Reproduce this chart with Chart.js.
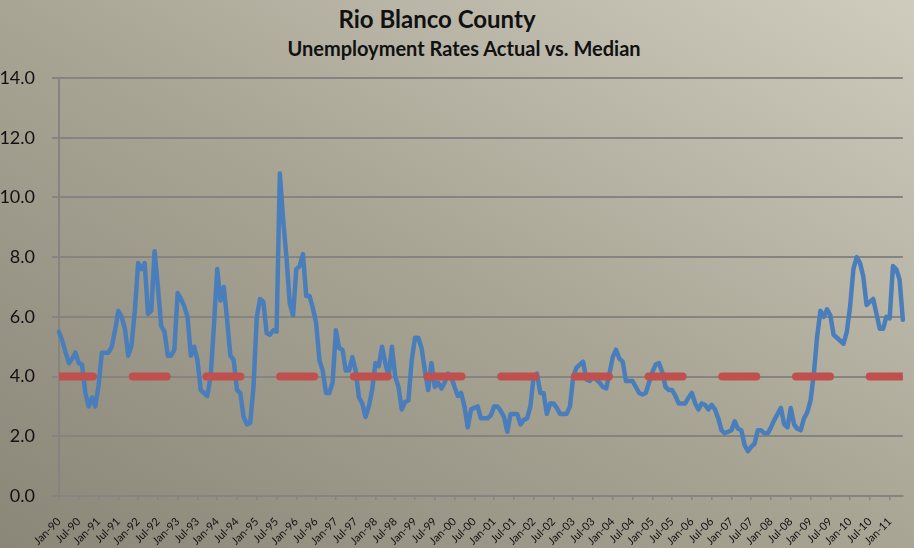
<!DOCTYPE html>
<html>
<head>
<meta charset="utf-8">
<title>Rio Blanco County</title>
<script src="https://cdn.jsdelivr.net/npm/chart.js@4.4.1/dist/chart.umd.min.js"></script>
<style>
  html, body { margin: 0; padding: 0; overflow: hidden; }
  #wrap {
    position: relative;
    width: 914px;
    height: 548px;
    background: linear-gradient(to top right, #8a8779 0%, #a8a595 50%, #cfccbe 100%);
    font-family: Lato, "Open Sans", sans-serif;
    color: #111;
  }
  .ttl {
    position: absolute;
    transform: translateX(-50%);
    white-space: nowrap;
    font-weight: bold;
  }
  #t1 { left: 437px; top: 4px; font-size: 24px; }
  #t2 { left: 464px; top: 36px; font-size: 20px; }
  canvas { position: absolute; left: 0; top: 0; }
</style>
</head>
<body>
<div id="wrap">
  <div class="ttl" id="t1">Rio Blanco County</div>
  <div class="ttl" id="t2">Unemployment Rates Actual vs. Median</div>
  <canvas id="myCanvas" width="914" height="548"></canvas>
</div>
<script>
let canvas = document.getElementById("myCanvas");

// monthly unemployment rate, Jan-90 onward
const actualRate = [
  5.5, 5.2, 4.8, 4.45, 4.6, 4.8, 4.45, 4.4, 3.45, 3.0,
  3.3, 3.0, 3.7, 4.8, 4.8, 4.8, 5.0, 5.55, 6.2, 6.0,
  5.6, 4.7, 5.05, 6.2, 7.8, 7.6, 7.8, 6.1, 6.2, 8.2,
  7.0, 5.7, 5.5, 4.7, 4.7, 4.9, 6.8, 6.6, 6.35, 6.0,
  4.7, 5.0, 4.55, 3.55, 3.45, 3.35, 4.0, 5.7, 7.6, 6.55,
  7.0, 5.9, 4.7, 4.55, 3.55, 3.45, 2.65, 2.4, 2.45, 3.65,
  6.0, 6.6, 6.5, 5.45, 5.4, 5.55, 5.5, 10.8, 9.25, 8.0,
  6.45, 6.05, 7.6, 7.7, 8.1, 6.7, 6.7, 6.3, 5.8, 4.55,
  4.2, 3.45, 3.45, 3.8, 5.55, 4.95, 4.9, 4.2, 4.2, 4.65,
  4.2, 3.3, 3.1, 2.65, 3.0, 3.55, 4.45, 4.35, 5.0, 4.45,
  4.0, 5.0, 4.0, 3.65, 2.9, 3.15, 3.2, 4.55, 5.3, 5.3,
  4.95, 4.2, 3.55, 4.45, 3.65, 3.8, 3.6, 3.8, 4.1, 4.0,
  3.65, 3.35, 3.45, 3.0, 2.3, 2.9, 2.95, 3.0, 2.6, 2.6,
  2.6, 2.7, 3.0, 3.0, 2.85, 2.65, 2.15, 2.75, 2.75, 2.75,
  2.4, 2.55, 2.6, 3.0, 4.0, 4.1, 3.45, 3.45, 2.75, 3.1,
  3.1, 2.95, 2.75, 2.75, 2.75, 3.0, 4.0, 4.3, 4.4, 4.5,
  3.9, 3.85, 4.0, 3.9, 3.8, 3.65, 3.6, 4.1, 4.65, 4.9,
  4.6, 4.5, 3.85, 3.85, 3.85, 3.65, 3.45, 3.4, 3.45, 3.8,
  4.15, 4.4, 4.45, 4.15, 3.65, 3.55, 3.55, 3.35, 3.1, 3.1,
  3.1, 3.3, 3.45, 3.1, 2.9, 3.1, 3.05, 2.9, 3.05, 2.9,
  2.6, 2.2, 2.1, 2.15, 2.2, 2.5, 2.25, 2.2, 1.7, 1.5,
  1.65, 1.75, 2.2, 2.2, 2.1, 2.1, 2.3, 2.55, 2.75, 2.95,
  2.4, 2.3, 2.95, 2.4, 2.25, 2.2, 2.6, 2.8, 3.2, 4.1,
  5.35, 6.2, 6.0, 6.25, 6.05, 5.4, 5.3, 5.2, 5.1, 5.5,
  6.35, 7.6, 8.0, 7.8, 7.35, 6.4, 6.5, 6.6, 6.1, 5.6,
  5.6, 6.0, 5.95, 7.7, 7.6, 7.25, 5.9
];

// the median for the whole period
const medianRate = 4.0;

const monthNames = ["Jan", "Feb", "Mar", "Apr", "May", "Jun", "Jul", "Aug", "Sep", "Oct", "Nov", "Dec"];
const startYear = 1990;

// categories: Jan-90, Feb-90, ...
let months = [];
for (let i = 0; i < actualRate.length; i++) {
  let yy = (startYear + Math.floor(i / 12)) % 100;
  months.push(`${monthNames[i % 12]}-${String(yy).padStart(2, "0")}`);
}

const yTicks = [0, 2, 4, 6, 8, 10, 12, 14];

const medianData = months.map(() => medianRate);

const gridColor = "#858480";

new Chart(canvas, {
  type: "line",
  data: {
    labels: months,
    datasets: [
      {
        label: "Median",
        data: medianData,
        borderColor: "#c0504d",
        borderWidth: 8,
        borderDash: [34, 39.7],
        borderCapStyle: "round",
        pointRadius: 0,
        clip: 0,
      },
      {
        label: "Actual",
        data: actualRate,
        borderColor: "#4a7ebb",
        borderWidth: 4.5,
        borderJoinStyle: "round",
        borderCapStyle: "round",
        pointRadius: 0,
        tension: 0,
        clip: false,
      },
    ],
  },
  options: {
    responsive: false,
    animation: false,
    devicePixelRatio: 1,
    layout: { padding: { top: 78, right: 0, bottom: 0, left: 0 } },
    plugins: {
      legend: { display: false },
      tooltip: { enabled: false },
    },
    scales: {
      x: {
        offset: false,
        afterFit: (scale) => { scale.height = 52; },
        grid: {
          display: true,
          drawOnChartArea: false,
          drawTicks: true,
          tickLength: 4,
          color: gridColor,
          lineWidth: 1.5,
        },
        border: { display: true, color: gridColor, width: 2 },
        ticks: {
          autoSkip: false,
          maxRotation: 45,
          minRotation: 45,
          padding: 15,
          color: "#111",
          font: { family: "Lato", size: 11 },
          callback: function (val, i) {
            return i % 6 === 0 ? this.getLabelForValue(val) : null;
          },
        },
      },
      y: {
        min: 0,
        max: 14,
        afterFit: (scale) => { scale.width = 59; },
        afterBuildTicks: (scale) => { scale.ticks = yTicks.map((v) => ({ value: v })); },
        grid: {
          color: gridColor,
          lineWidth: 2,
          tickLength: 7,
        },
        border: { display: true, color: gridColor, width: 2 },
        ticks: {
          padding: 17,
          color: "#111",
          font: { family: "Lato", size: 18 },
          callback: (v) => v.toFixed(1),
        },
      },
    },
  },
});
</script>
</body>
</html>
